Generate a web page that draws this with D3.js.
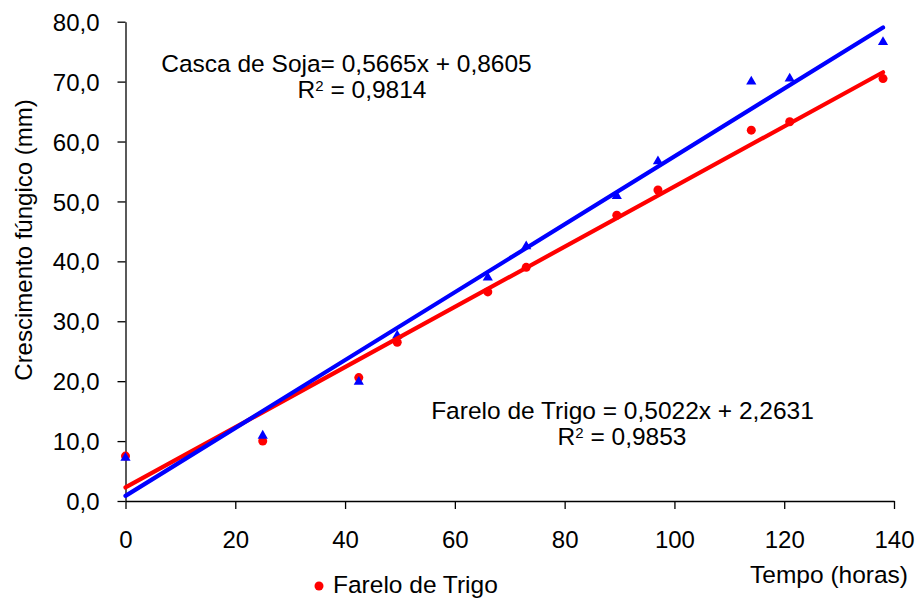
<!DOCTYPE html>
<html>
<head>
<meta charset="utf-8">
<script src="https://cdn.jsdelivr.net/npm/d3@7"></script>
<style>
  body { margin: 0; background: #fff; }
  svg text { font-family: "Liberation Sans", Arial, sans-serif; fill: #000; }
</style>
</head>
<body>
<div id="chart"></div>
<script>
// tempos (horas)
var tempos = [0, 25, 42.5, 49.5, 66, 73, 89.5, 97, 114, 121, 138];
// Farelo de Trigo (mm)
var fareloTrigo = [7.5, 10.0, 20.6, 26.5, 34.9, 39.0, 47.7, 51.9, 61.9, 63.3, 70.5];
// Casca de Soja (mm)
var cascaSoja = [7.2, 10.9, 19.9, 27.6, 37.3, 42.5, 50.9, 56.7, 70.0, 70.5, 76.6];
// regressões: [inclinação, intercepto]
var trigoFit = [0.5022, 2.2631];
var sojaFit = [0.5665, 0.8605];
var xTicks = [0, 20, 40, 60, 80, 100, 120, 140];
var yTicks = [0, 10, 20, 30, 40, 50, 60, 70, 80];

var width = 917, height = 601;
var margin = { left: 125.5, top: 21.7, right: 23, bottom: 100 };

var svg = d3.select('#chart')
    .append('svg')
    .attr('width', width)
    .attr('height', height);

var xScale = d3.scaleLinear()
    .domain([0, 140])
    .range([margin.left, 894]);
var yScale = d3.scaleLinear()
    .domain([0, 80])
    .range([501, margin.top]);

var fmt = function (d) { return d3.format('.1f')(d).replace('.', ','); };

// eixo y
var gy = svg.append('g')
    .attr('transform', 'translate(' + xScale(0) + ',0)')
    .call(d3.axisLeft(yScale).tickValues(yTicks).tickFormat(fmt).tickSize(8).tickSizeOuter(0));
gy.selectAll('text').attr('x', -26).style('font-size', '24px').attr('dy', '0.36em');

// eixo x
var gx = svg.append('g')
    .attr('transform', 'translate(0,' + yScale(0) + ')')
    .call(d3.axisBottom(xScale).tickValues(xTicks).tickFormat(d3.format('d')).tickSize(8).tickSizeOuter(0));
gx.selectAll('text').attr('y', 47).attr('dy', null).style('font-size', '24px');
svg.selectAll('.domain, .tick line').attr('stroke', '#000').attr('stroke-width', 1.3);

// marcadores
svg.append('g')
    .selectAll('circle')
    .data(tempos)
    .enter()
    .append('circle')
    .attr('cx', function (d) { return xScale(d); })
    .attr('cy', function (d, i) { return yScale(fareloTrigo[i]); })
    .attr('r', 4.5)
    .attr('fill', '#ff0000');

var tri = d3.symbol().type(d3.symbolTriangle).size(45);
svg.append('g')
    .selectAll('path')
    .data(tempos)
    .enter()
    .append('path')
    .attr('d', tri)
    .attr('transform', function (d, i) {
        return 'translate(' + xScale(d) + ',' + yScale(cascaSoja[i]) + ')';
    })
    .attr('fill', '#0000ff');

// linhas de tendência
var line = d3.line()
    .x(function (d) { return xScale(d[0]); })
    .y(function (d) { return yScale(d[1]); });
var xr = [tempos[0], tempos[tempos.length - 1]];
[[trigoFit, '#ff0000'], [sojaFit, '#0000ff']].forEach(function (f) {
    svg.append('path')
        .attr('d', line(xr.map(function (x) { return [x, f[0][0] * x + f[0][1]]; })))
        .attr('stroke', f[1])
        .attr('stroke-width', 4.2)
        .attr('stroke-linecap', 'round')
        .attr('fill', 'none');
});

// equações
function fmt4(v) { return d3.format('.4f')(v).replace('.', ','); }
function equation(cx, cx2, y, label, fit, r2) {
    svg.append('text')
        .attr('x', cx).attr('y', y)
        .attr('text-anchor', 'middle')
        .style('font-size', '24.5px')
        .text(label + fmt4(fit[0]) + 'x + ' + fmt4(fit[1]));
    var t = svg.append('text')
        .attr('x', cx2).attr('y', y + 26)
        .attr('text-anchor', 'middle')
        .style('font-size', '24.5px');
    t.append('tspan').text('R');
    t.append('tspan').attr('dy', -7).style('font-size', '15px').text('2');
    t.append('tspan').attr('dy', 7).text(' = ' + fmt4(r2));
}
equation(346.5, 362, 72, 'Casca de Soja= ', sojaFit, 0.9814);
equation(622.5, 622, 419, 'Farelo de Trigo = ', trigoFit, 0.9853);

// títulos dos eixos
svg.append('text')
    .attr('transform', 'translate(32,240) rotate(-90)')
    .attr('text-anchor', 'middle')
    .style('font-size', '24px')
    .text('Crescimento fúngico (mm)');
svg.append('text')
    .attr('x', 908).attr('y', 583)
    .attr('text-anchor', 'end')
    .style('font-size', '24.5px')
    .text('Tempo (horas)');

// legenda
svg.append('circle')
    .attr('cx', 319).attr('cy', 586).attr('r', 4.5)
    .attr('fill', '#ff0000');
svg.append('text')
    .attr('x', 333).attr('y', 593)
    .style('font-size', '24.5px')
    .text('Farelo de Trigo');
</script>
</body>
</html>
